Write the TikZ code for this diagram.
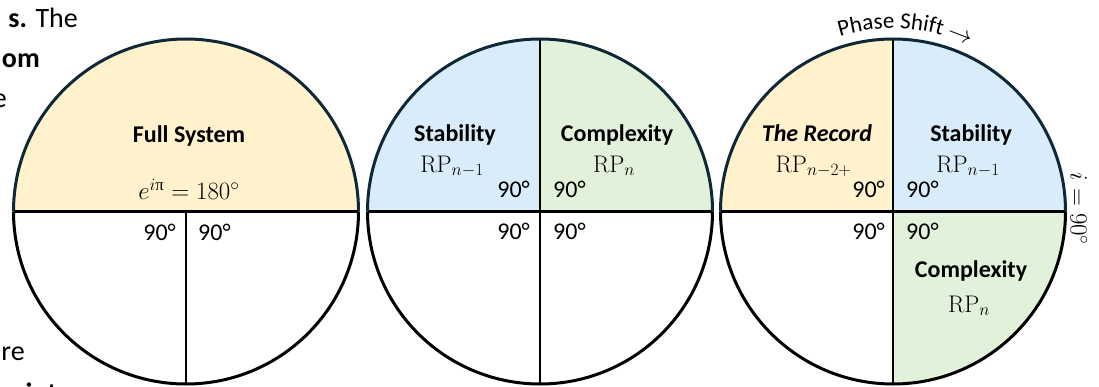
\documentclass[tikz,border=0pt]{standalone}
\usepackage{fontspec}
\usepackage{amsmath}
\setmainfont{Carlito}
\setmathrm{Latin Modern Roman}
\newfontfamily\serifgr{Liberation Serif}
\usetikzlibrary{decorations.text}
\definecolor{rimnavy}{RGB}{14,40,56}
\definecolor{fillor}{HTML}{FFF2CC}
\definecolor{fillbl}{HTML}{D9ECF9}
\definecolor{fillgr}{HTML}{E2F2DA}
\tikzset{
  lbl/.style={font=\fontsize{24}{28}\selectfont, inner sep=0pt, anchor=base},
  ttl/.style={lbl, font=\fontsize{24}{28}\selectfont\bfseries},
  degl/.style={lbl, anchor=base east},
  degr/.style={lbl, anchor=base west},
  divider/.style={line width=2.6pt, black},
  rimtop/.style={line width=3pt, rimnavy},
  rimbot/.style={line width=3pt, black},
  side/.style={font=\fontsize{28}{32}\selectfont, inner sep=0pt, anchor=base east},
}
\begin{document}
\begin{tikzpicture}[x=1pt,y=1pt]
\useasboundingbox (0,0) rectangle (1099,386);
% side text (cut off)
\node[side] (s1) at (78,358) {\textbf{s.} The};
\node[side] (s2) at (40,318) {\textbf{om}};
\node[side] (s3) at (7,278) {e};
\node[side] (s4) at (25,26) {re};
\node[side] (s5) at (72,-16) {\textbf{into}};
% ---------- circle 1
\fill[fillor] (13.5,174.5) arc[start angle=180,end angle=0,radius=172.5pt] -- cycle;
\draw[divider] (13.5,174.5) -- (358.5,174.5);
\draw[divider] (186,174.5) -- (186,2);
\draw[rimtop] (13.5,174.5) arc[start angle=180,end angle=0,radius=172.5pt];
\draw[rimbot] (358.5,174.5) arc[start angle=0,end angle=-180,radius=172.5pt];
\node[ttl] (fs) at (189,243) {Full System};
\node[lbl] (eq) at (189,186) {$e^{i\text{\serifgr π}} = 180^\circ$};
\node[degl] (a1) at (176,146) {90°};
\node[degr] (a2) at (198,146) {90°};
% ---------- circle 2
\fill[fillbl] (540,174.5) -- (367.5,174.5) arc[start angle=180,end angle=90,radius=172.5pt] -- cycle;
\fill[fillgr] (540,174.5) -- (712.5,174.5) arc[start angle=0,end angle=90,radius=172.5pt] -- cycle;
\draw[divider] (367.5,174.5) -- (712.5,174.5);
\draw[divider] (540,347) -- (540,2);
\draw[rimtop] (367.5,174.5) arc[start angle=180,end angle=0,radius=172.5pt];
\draw[rimbot] (712.5,174.5) arc[start angle=0,end angle=-180,radius=172.5pt];
\node[ttl] (st2) at (455,244) {Stability};
\node[lbl] (rp2a) at (452,214) {$\mathrm{RP}_{n-1}$};
\node[ttl] (cx2) at (617,244) {Complexity};
\node[lbl] (rp2b) at (614,214) {$\mathrm{RP}_{n}$};
\node[degl] (b1) at (530,189) {90°};
\node[degr] (b2) at (553,189) {90°};
\node[degl] (b3) at (530,147) {90°};
\node[degr] (b4) at (553,147) {90°};
% ---------- circle 3
\fill[fillor] (893,174.5) -- (720.5,174.5) arc[start angle=180,end angle=90,radius=172.5pt] -- cycle;
\fill[fillbl] (893,174.5) -- (1065.5,174.5) arc[start angle=0,end angle=90,radius=172.5pt] -- cycle;
\fill[fillgr] (893,174.5) -- (1065.5,174.5) arc[start angle=0,end angle=-90,radius=172.5pt] -- cycle;
\draw[divider] (720.5,174.5) -- (1065.5,174.5);
\draw[divider] (893,347) -- (893,2);
\draw[rimtop] (720.5,174.5) arc[start angle=180,end angle=0,radius=172.5pt];
\draw[rimbot] (1065.5,174.5) arc[start angle=0,end angle=-180,radius=172.5pt];
\node[ttl, font=\fontsize{24}{28}\selectfont\bfseries\itshape] (rec) at (817,244) {The Record};
\node[lbl] (rp3a) at (813.5,214) {$\mathrm{RP}_{n-2+}$};
\node[ttl] (st3) at (971,244) {Stability};
\node[lbl] (rp3b) at (968,214) {$\mathrm{RP}_{n-1}$};
\node[degl] (c1) at (885,189) {90°};
\node[degr] (c2) at (906,189) {90°};
\node[degl] (c3) at (885,147) {90°};
\node[degr] (c4) at (906,147) {90°};
\node[ttl] (cx3) at (971,109) {Complexity};
\node[lbl] (rp3c) at (969,74) {$\mathrm{RP}_{n}$};
\node[lbl, anchor=center, rotate=-90] (iq) at (1079,177) {$i = 90^\circ$};
\path[decorate, decoration={text along path, text align=center,
  text={|\fontsize{23}{26}\selectfont|Phase Shift {$\rightarrow$}}}]
  ([shift={(120:183)}]893,174.5) arc[start angle=120,end angle=52,radius=183pt];
\end{tikzpicture}
\end{document}
